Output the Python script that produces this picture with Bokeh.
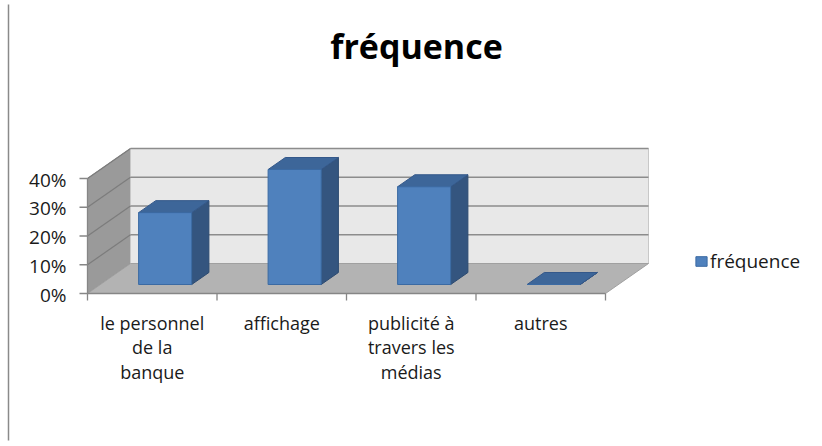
from bokeh.plotting import figure
from bokeh.models import Range1d, Label, Legend, LegendItem
from bokeh.core.properties import value
from bokeh.embed import file_html
from bokeh.resources import INLINE

# ---- data -------------------------------------------------------------
categories = ["le personnel\nde la\nbanque", "affichage",
              "publicité à\ntravers les\nmédias", "autres"]
frequence = [25, 40, 34, 0]            # percent
y_ticks = [0, 10, 20, 30, 40]
y_tick_labels = ["0%", "10%", "20%", "30%", "40%"]
series_name = "fréquence"

# ---- layout constants (canvas pixels) --------------------------------
W, H = 822, 446
ORIGIN_X, PX_PER_CAT = 87.0, 129.5     # x pixel of category 0, width of a category
ORIGIN_Y, PX_PER_PCT = 293.0, 2.875    # y pixel (from top) of 0 %, pixels per percent
DX = 43.0 / PX_PER_CAT                 # depth offset of the back plane, in category units
DY = 30.0 / PX_PER_PCT                 # depth offset of the back plane, in percent units
BAR_HALF = 0.205
BAR_FRONT, BAR_BACK = 0.3, 0.7         # bar depth, as fractions of the floor depth
FONT = "Open Sans"

n = len(categories)
vmax = y_ticks[-1]

p = figure(width=W, height=H, output_backend="svg", toolbar_location=None,
           x_range=Range1d(-ORIGIN_X / PX_PER_CAT, (W - ORIGIN_X) / PX_PER_CAT),
           y_range=Range1d((ORIGIN_Y - H) / PX_PER_PCT, ORIGIN_Y / PX_PER_PCT),
           min_border=0, x_axis_location=None, y_axis_location=None)
p.grid.visible = False
p.outline_line_color = None
p.background_fill_color = "white"
p.border_fill_color = "white"

# ---- walls and floor ---------------------------------------------------
# side wall
p.patch([0, 0, DX, DX], [0, vmax, vmax + DY, DY],
        fill_color="#9a9a9a", line_color="#8a8a8a", line_width=1)
# back wall
p.patch([DX, n + DX, n + DX, DX], [DY, DY, vmax + DY, vmax + DY],
        fill_color="#e8e8e8", line_color="#c8c8c8", line_width=1)
# floor
p.patch([0, n, n + DX, DX], [0, 0, DY, DY],
        fill_color="#b3b3b3", line_color="#a0a0a0", line_width=1)

# gridlines on the back wall and the side wall
grid_vals = y_ticks[1:]
p.segment(x0=[DX] * len(grid_vals), y0=[v + DY for v in grid_vals],
          x1=[n + DX] * len(grid_vals), y1=[v + DY for v in grid_vals],
          line_color="#8c8c8c", line_width=1.5)
p.segment(x0=[0] * len(grid_vals), y0=grid_vals,
          x1=[DX] * len(grid_vals), y1=[v + DY for v in grid_vals],
          line_color="#7c7c7c", line_width=1.2)

# ---- axes ----------------------------------------------------------------
tick_len_x = 8.0 / PX_PER_CAT
tick_len_y = 7.0 / PX_PER_PCT
# value axis
p.segment(x0=[0], y0=[0], x1=[0], y1=[vmax], line_color="#868686", line_width=1.3)
p.segment(x0=[-tick_len_x] * len(y_ticks), y0=y_ticks,
          x1=[0] * len(y_ticks), y1=y_ticks, line_color="#868686", line_width=1.3)
p.text(x=[-21.0 / PX_PER_CAT] * len(y_ticks), y=[v - 0.4 for v in y_ticks],
       text=y_tick_labels, text_align="right", text_baseline="middle",
       text_font=value(FONT), text_font_size="19px", text_color="#1a1a1a")
# category axis
cat_edges = list(range(n + 1))
p.segment(x0=[0], y0=[0], x1=[n], y1=[0], line_color="#868686", line_width=1.3)
p.segment(x0=cat_edges, y0=[0] * len(cat_edges),
          x1=cat_edges, y1=[-tick_len_y] * len(cat_edges),
          line_color="#868686", line_width=1.3)
p.text(x=[i + 0.5 for i in range(n)], y=[-17.0 / PX_PER_PCT] * n,
       text=categories, text_align="center", text_baseline="top",
       text_font=value(FONT), text_font_size="18px", text_color="#1a1a1a",
       text_line_height=1.04)

# ---- 3D bars -------------------------------------------------------------
front_xs, front_ys, side_xs, side_ys, top_xs, top_ys = [], [], [], [], [], []
fx, fy = BAR_FRONT * DX, BAR_FRONT * DY
bx, by = BAR_BACK * DX, BAR_BACK * DY
for i, v in enumerate(frequence):
    x0, x1 = i + 0.5 - BAR_HALF, i + 0.5 + BAR_HALF
    front_xs.append([x0 + fx, x1 + fx, x1 + fx, x0 + fx])
    front_ys.append([fy, fy, v + fy, v + fy])
    side_xs.append([x1 + fx, x1 + bx, x1 + bx, x1 + fx])
    side_ys.append([fy, by, v + by, v + fy])
    top_xs.append([x0 + fx, x1 + fx, x1 + bx, x0 + bx])
    top_ys.append([v + fy, v + fy, v + by, v + by])

p.patches(side_xs, side_ys, fill_color="#34557f", line_color="#2c4a70", line_width=1)
p.patches(top_xs, top_ys, fill_color="#3d6699", line_color="#34588a", line_width=1)
front = p.patches(front_xs, front_ys, fill_color="#4f81bd", line_color="#3b6aa3",
                  line_width=1)

# ---- legend, title, frame ---------------------------------------------------
legend = Legend(items=[LegendItem(label=series_name, renderers=[front])],
                location=(694, H - 274), orientation="vertical",
                padding=0, margin=0, spacing=0, label_standoff=2,
                glyph_width=14, glyph_height=12,
                label_text_font=FONT, label_text_font_size="19px",
                label_text_color="#1a1a1a",
                border_line_color=None, background_fill_alpha=0)
p.add_layout(legend)

p.add_layout(Label(x=W / 2 + 5, y=H - 45, x_units="screen", y_units="screen",
                   text=series_name, text_align="center", text_baseline="middle",
                   text_font=FONT, text_font_style="bold", text_font_size="34px",
                   text_color="black"))

# thin rule on the left edge of the chart area
p.segment(x0=[-(ORIGIN_X - 8) / PX_PER_CAT], y0=[(ORIGIN_Y - 440) / PX_PER_PCT],
          x1=[-(ORIGIN_X - 8) / PX_PER_CAT], y1=[(ORIGIN_Y - 4) / PX_PER_PCT],
          line_color="#8a8a8a", line_width=1.5)

open("out.html", "w").write(file_html(p, INLINE))
